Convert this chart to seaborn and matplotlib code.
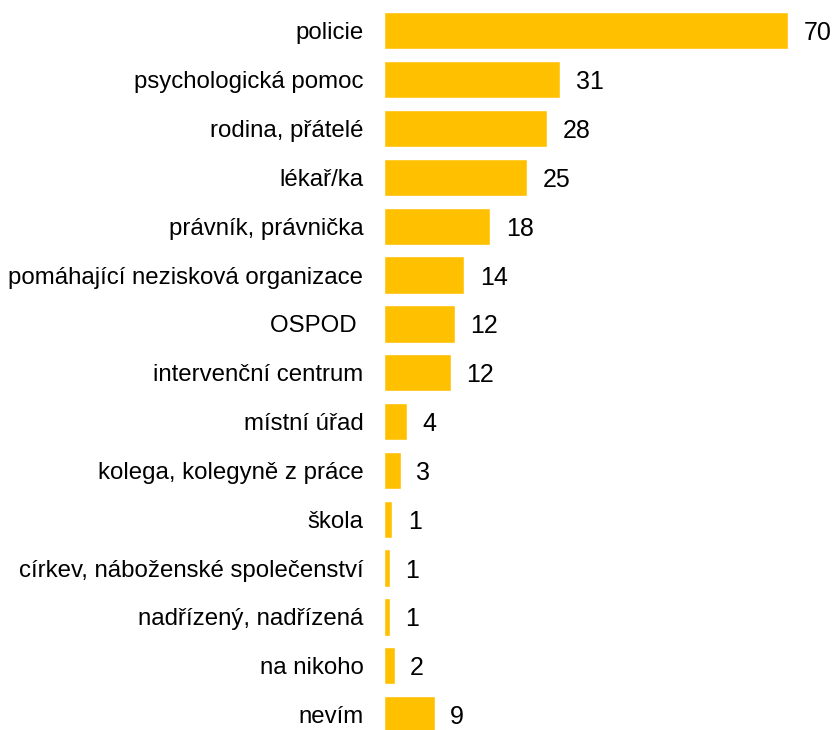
import pandas as pd
import seaborn as sns
import matplotlib.pyplot as plt

# Data
categories = [
    'policie', 'psychologická pomoc', 'rodina, přátelé', 'lékař/ka',
    'právník, právnička', 'pomáhající nezisková organizace', 'OSPOD ',
    'intervenční centrum', 'místní úřad', 'kolega, kolegyně z práce',
    'škola', 'církev, náboženské společenství', 'nadřízený, nadřízená',
    'na nikoho', 'nevím',
]
values = [70.0, 30.5, 28.2, 24.8, 18.4, 13.9, 12.3, 11.6, 4.0, 2.9,
          1.4, 1.0, 0.9, 1.8, 8.8]
value_labels = ['70', '31', '28', '25', '18', '14', '12', '12', '4', '3',
                '1', '1', '1', '2', '9']

df = pd.DataFrame({'kategorie': categories, 'hodnota': values})

sns.set_style('white')
plt.rcParams['font.family'] = ['Liberation Sans', 'DejaVu Sans']

fig = plt.figure(figsize=(8.36, 7.30), dpi=100)
ax = fig.add_axes([0.4597, -0.01247, 0.5403, 1.0038])

sns.barplot(data=df, x='hodnota', y='kategorie', color='#FFC000',
            saturation=1, width=0.763, ax=ax)

# value labels to the right of each bar
for i, (v, lab) in enumerate(zip(values, value_labels)):
    ax.annotate(lab, xy=(v, i), xytext=(11, 0), textcoords='offset points',
                va='center_baseline', ha='left', fontsize=18, color='black')

ax.set_xlim(0, 78.3)
ax.set_ylim(14.5, -0.5)
ax.set_xlabel('')
ax.set_ylabel('')
ax.set_xticks([])
ax.tick_params(axis='y', length=0, pad=15, labelsize=17.3, labelcolor='black')
sns.despine(ax=ax, left=True, bottom=True)

fig.savefig('out.png', dpi=100)
